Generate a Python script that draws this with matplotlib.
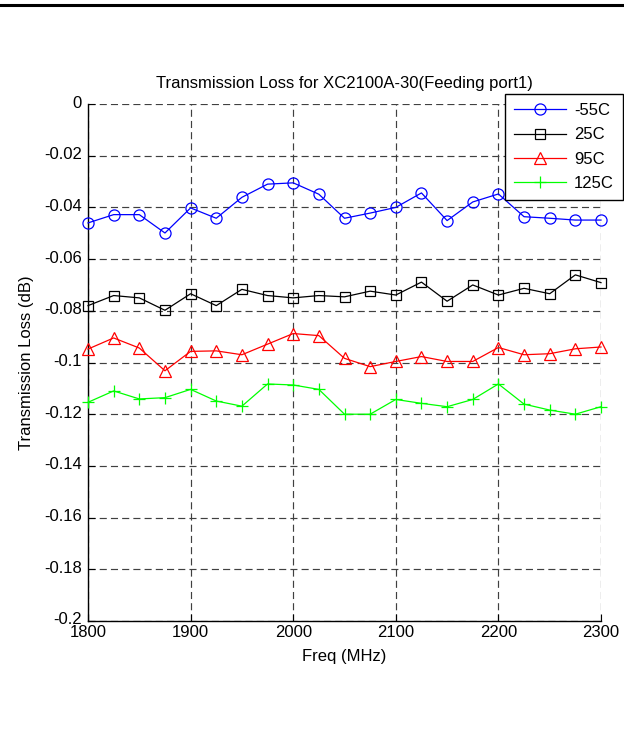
import matplotlib
matplotlib.use("Agg")
import matplotlib.pyplot as plt
from matplotlib.lines import Line2D
from matplotlib.transforms import ScaledTranslation

plt.rcParams['font.family'] = ['Liberation Sans', 'DejaVu Sans']

freq = [1800, 1825, 1850, 1875, 1900, 1925, 1950, 1975, 2000, 2025, 2050,
        2075, 2100, 2125, 2150, 2175, 2200, 2225, 2250, 2275, 2300]
loss_m55 = [-0.0460, -0.0428, -0.0428, -0.0499, -0.0402, -0.0442, -0.0361, -0.0310,
            -0.0305, -0.0349, -0.0442, -0.0422, -0.0400, -0.0344, -0.0451, -0.0379,
            -0.0348, -0.0436, -0.0442, -0.0449, -0.0449]
loss_25 = [-0.0780, -0.0741, -0.0750, -0.0798, -0.0734, -0.0780, -0.0717, -0.0741,
           -0.0750, -0.0741, -0.0746, -0.0724, -0.0739, -0.0689, -0.0763, -0.0700,
           -0.0739, -0.0713, -0.0734, -0.0661, -0.0691]
loss_95 = [-0.0948, -0.0905, -0.0944, -0.1032, -0.0957, -0.0955, -0.0970, -0.0929,
           -0.0888, -0.0896, -0.0984, -0.1016, -0.0996, -0.0977, -0.0996, -0.0996,
           -0.0942, -0.0970, -0.0966, -0.0947, -0.0940]
loss_125 = [-0.1154, -0.1110, -0.1141, -0.1136, -0.1104, -0.1149, -0.1169, -0.1083,
            -0.1087, -0.1104, -0.1200, -0.1200, -0.1143, -0.1158, -0.1171, -0.1143,
            -0.1083, -0.1161, -0.1184, -0.1200, -0.1171]
labels = ['-55C', '25C', '95C', '125C']
xticks = [1800, 1900, 2000, 2100, 2200, 2300]
yticks = [0, -0.02, -0.04, -0.06, -0.08, -0.1, -0.12, -0.14, -0.16, -0.18, -0.2]
ytick_labels = ['0', '-0.02', '-0.04', '-0.06', '-0.08', '-0.1', '-0.12', '-0.14',
                '-0.16', '-0.18', '-0.2']

FS = 12

fig = plt.figure(figsize=(6.24, 7.37), dpi=100)
ax = fig.add_axes([88/624, 1-621/737, (601-88)/624, (621-104)/737])

series = [loss_m55, loss_25, loss_95, loss_125]
colors = ['#0000ff', '#000000', '#ff0000', '#00ff00']
markers = ['o', 's', '^', '+']
msizes = [8, 7.5, 8.5, 9]
handles = []
for vals, c, m, ms, lab in zip(series, colors, markers, msizes, labels):
    h, = ax.plot(freq, vals, color=c, marker=m, markersize=ms, markerfacecolor='none',
                 markeredgecolor=c, linewidth=0.9, markeredgewidth=0.9, label=lab,
                 clip_on=False, zorder=3)
    handles.append(h)

ax.set_xlim(1800, 2300)
ax.set_ylim(-0.2, 0)
ax.set_xticks(xticks)
ax.set_yticks(yticks)
ax.set_yticklabels(ytick_labels)
ax.grid(True, color='#404040', linestyle=(0, (6, 3.5)), linewidth=0.85)
ax.set_axisbelow(True)
for s in ['top', 'right']:
    ax.spines[s].set_visible(False)
for s in ['left', 'bottom']:
    ax.spines[s].set_linewidth(1.0)
ax.tick_params(direction='in', length=5, width=0.8, labelsize=FS)
ax.tick_params(axis='y', pad=4.5)
ax.tick_params(axis='x', pad=3)
offset = ScaledTranslation(0, 2.5/100, fig.dpi_scale_trans)
for lbl in ax.get_yticklabels():
    lbl.set_transform(lbl.get_transform() + offset)

ax.set_title('Transmission Loss for XC2100A-30(Feeding port1)', fontsize=FS, pad=11.5)
ax.set_xlabel('Freq (MHz)', fontsize=FS, labelpad=6)
ax.set_ylabel('Transmission Loss (dB)', fontsize=FS, labelpad=7)

leg = fig.legend(handles=handles, loc='upper left',
                 bbox_to_anchor=(505/624, 1-94/737), bbox_transform=fig.transFigure,
                 fontsize=FS, frameon=True, fancybox=False, edgecolor='black',
                 framealpha=1, handlelength=3.1, borderpad=0.55, labelspacing=0.55,
                 handletextpad=0.5, borderaxespad=0)
leg.get_frame().set_linewidth(1.0)

fig.add_artist(Line2D([0, 1], [1-5/737, 1-5/737], transform=fig.transFigure,
                      color='black', linewidth=2.2))

fig.savefig('out.png', dpi=100)
